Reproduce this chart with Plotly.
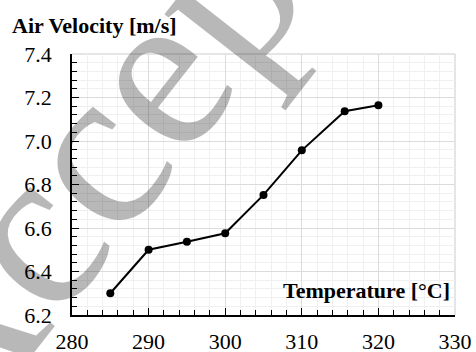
import plotly.graph_objects as go

temperature = [285, 290, 295, 300, 305, 310, 315.6, 320]
air_velocity = [6.30, 6.50, 6.537, 6.576, 6.752, 6.957, 7.137, 7.164]

x_range = [280, 330]
y_range = [6.2, 7.4]
y_label = "Air Velocity [m/s]"
x_label = "Temperature [°C]"
watermark = "Accepted"

FONT = "Liberation Serif"

fig = go.Figure()
fig.add_trace(go.Scatter(
    x=temperature, y=air_velocity, mode="lines+markers",
    line=dict(color="black", width=2),
    marker=dict(color="black", size=8),
    showlegend=False,
))

axis_common = dict(
    showline=True, linecolor="black", linewidth=1.5,
    ticks="inside", ticklen=7, tickwidth=1.2, tickcolor="black",
    showgrid=True, gridcolor="#dcdcdc", gridwidth=1,
    zeroline=False, automargin=False,
    tickfont=dict(family=FONT, size=22, color="black"),
)

fig.update_xaxes(
    range=x_range, dtick=10, tick0=280, ticklabelstandoff=6,
    minor=dict(dtick=2, ticks="inside", ticklen=5, tickcolor="black",
               showgrid=True, gridcolor="#f0f0f0", gridwidth=1),
    **axis_common,
)
fig.update_yaxes(
    range=y_range, dtick=0.2, tick0=6.2, tickformat=".1f", ticklabelstandoff=14,
    minor=dict(dtick=0.04, ticks="inside", ticklen=5, tickcolor="black",
               showgrid=True, gridcolor="#f0f0f0", gridwidth=1),
    **axis_common,
)

fig.add_shape(type="line", xref="paper", yref="paper", x0=0, x1=1, y0=1, y1=1,
              line=dict(color="#dcdcdc", width=1.5), layer="below")
fig.add_shape(type="line", xref="paper", yref="paper", x0=1, x1=1, y0=0, y1=1,
              line=dict(color="#dcdcdc", width=1.5), layer="below")

fig.add_annotation(text=f"<b>{y_label}</b>", xref="paper", yref="paper",
                   x=-0.162, y=1.111, xanchor="left", yanchor="middle",
                   showarrow=False, font=dict(family=FONT, size=22, color="black"))
fig.add_annotation(text=f"<b>{x_label}</b>", xref="paper", yref="paper",
                   x=0.992, y=0.092, xanchor="right", yanchor="middle",
                   showarrow=False, font=dict(family=FONT, size=22, color="black"))

fig.add_annotation(text=watermark, xref="paper", yref="paper",
                   x=0.23, y=0.955, xanchor="center", yanchor="middle",
                   textangle=-52, showarrow=False,
                   font=dict(family=FONT, size=230, color="rgba(0,0,0,0.28)"))

fig.update_layout(
    width=476, height=352,
    margin=dict(l=72, r=21, t=54, b=37),
    paper_bgcolor="white", plot_bgcolor="white",
)

fig.write_html("out.html", config={"displayModeBar": False},
               post_script="document.body.style.margin='0';document.body.style.overflow='hidden';")
